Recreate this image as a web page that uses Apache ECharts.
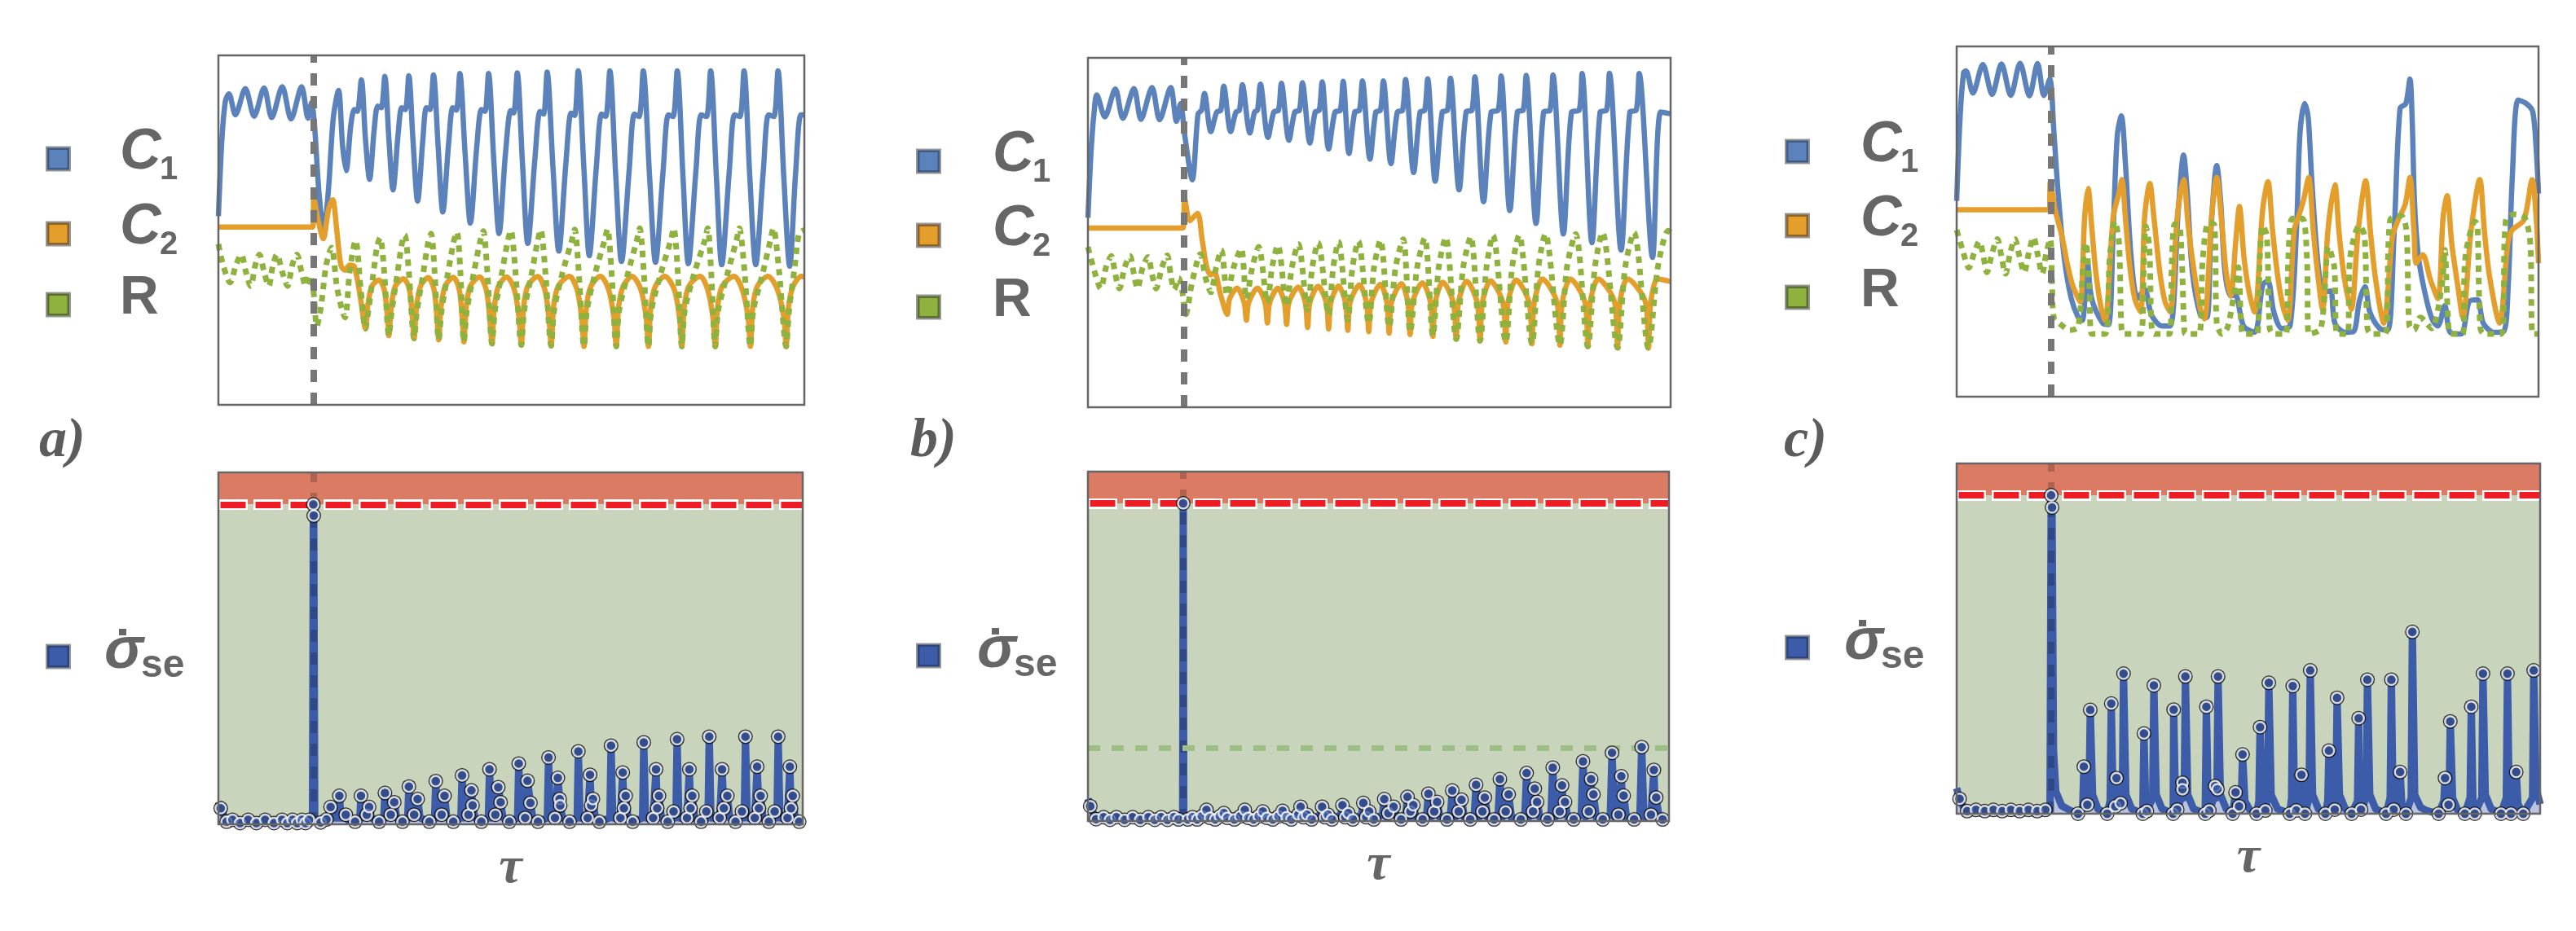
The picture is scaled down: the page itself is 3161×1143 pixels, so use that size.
<!DOCTYPE html>
<html><head><meta charset="utf-8">
<script src="https://cdn.jsdelivr.net/npm/echarts@6/dist/echarts.min.js"></script>
<style>html,body{margin:0;padding:0;background:#fff}#c{width:3161px;height:1143px}</style>
</head><body><div id="c"></div>
<script>
// ---------- data (tau on 0..100) ----------
const TAU_MIN = 0, TAU_MAX = 100;
const TOP_Y = [0, 1];
const BOTTOM_Y = [0, 1.1];
const THRESHOLD = 1.0;
const SWITCH_TAU = [16.3, 16.4, 16.2];
const GREEN_LEVEL_B = 0.233;
const PANEL_LETTERS = ['a)', 'b)', 'c)'];
const AXIS_NAME = 'τ';

const C1_A = [[0,0.54],[0.6,0.76],[1.2,0.87],[1.8,0.89],[2.9,0.83],[4.6,0.905],[6.1,0.826],[7.8,0.907],[9.1,0.822],[10.9,0.91],[12.4,0.818],[14.2,0.91],[15.3,0.82],[15.9,0.865],[16.4,0.80],[17.2,0.60],[18.0,0.50],
[18.8,0.62],[19.6,0.82],[20.5,0.90],[21.2,0.74],[21.8,0.67],[22.6,0.80],[23.2,0.845],[23.7,0.84],[24.4,0.93],[25.1,0.76],[25.8,0.645],
[26.6,0.79],[27.2,0.855],[27.8,0.85],[28.4,0.94],[29.1,0.76],[29.8,0.615],
[30.7,0.78],[31.3,0.85],[31.9,0.845],[32.5,0.942],[33.2,0.76],[34.0,0.583],
[34.9,0.76],[35.5,0.85],[36.1,0.845],[36.7,0.944],[37.5,0.74],[38.3,0.552],
[39.3,0.75],[40.0,0.85],[40.6,0.843],[41.2,0.948],[42.1,0.72],[43.0,0.52],
[44.1,0.74],[44.9,0.845],[45.5,0.84],[46.1,0.948],[47.0,0.70],[47.9,0.49],
[49.0,0.72],[49.9,0.842],[50.4,0.835],[51.0,0.95],[51.9,0.69],[52.8,0.462],
[54.0,0.70],[54.9,0.84],[55.5,0.832],[56.1,0.952],[57.1,0.68],[58.1,0.44],
[59.3,0.69],[60.2,0.835],[60.8,0.828],[61.4,0.956],[62.4,0.67],[63.3,0.427],
[64.5,0.68],[65.4,0.832],[66.1,0.825],[66.8,0.956],[67.8,0.66],[68.8,0.41],
[70.1,0.67],[71.0,0.832],[71.8,0.825],[72.5,0.956],[73.6,0.65],[74.6,0.408],
[75.9,0.67],[76.8,0.83],[77.6,0.825],[78.3,0.956],[79.3,0.65],[80.2,0.404],
[81.5,0.67],[82.4,0.83],[83.3,0.825],[84.0,0.956],[85.0,0.65],[85.9,0.401],
[87.2,0.67],[88.1,0.83],[89.0,0.825],[89.7,0.956],[90.7,0.65],[91.7,0.401],
[93.0,0.67],[93.9,0.83],[94.8,0.825],[95.5,0.956],[96.5,0.65],[97.5,0.397],
[98.5,0.66],[99.4,0.83],[100,0.83]];

const C2_A = [[0,0.509],[16.1,0.509],[16.3,0.59],[17.0,0.53],[17.9,0.475],[18.8,0.56],[19.5,0.587],[20.2,0.50],[20.9,0.40],[21.6,0.385],[22.4,0.40],[23.2,0.396],[24.2,0.31],[25.1,0.218],
[25.5,0.285],[26.2,0.34],[27.4,0.357],[28.3,0.33],[28.8,0.26],[29.1,0.198],
[29.5,0.28],[30.2,0.34],[31.6,0.361],[32.6,0.33],[33.1,0.25],[33.4,0.19],
[33.8,0.28],[34.5,0.34],[35.8,0.364],[36.8,0.33],[37.3,0.25],[37.6,0.186],
[38.0,0.28],[38.7,0.34],[40.1,0.365],[41.1,0.33],[41.6,0.25],[41.9,0.18],
[42.3,0.28],[43.0,0.34],[44.6,0.366],[45.7,0.33],[46.3,0.25],[46.7,0.175],
[47.1,0.28],[47.8,0.34],[49.2,0.366],[50.5,0.33],[51.3,0.25],[51.7,0.171],
[52.1,0.28],[52.8,0.34],[54.5,0.367],[55.7,0.33],[56.4,0.25],[56.8,0.169],
[57.2,0.28],[58.0,0.34],[59.9,0.368],[61.2,0.33],[62.0,0.25],[62.4,0.167],
[62.8,0.28],[63.6,0.34],[65.2,0.368],[66.6,0.33],[67.5,0.25],[67.9,0.167],
[68.3,0.28],[69.1,0.34],[70.6,0.368],[72.1,0.33],[73.0,0.25],[73.4,0.167],
[73.8,0.28],[74.6,0.34],[76.2,0.368],[77.8,0.33],[78.7,0.25],[79.1,0.167],
[79.5,0.28],[80.3,0.34],[82.2,0.368],[83.5,0.33],[84.4,0.25],[84.8,0.167],
[85.2,0.28],[86.0,0.34],[88.0,0.368],[89.4,0.33],[90.4,0.25],[90.8,0.167],
[91.2,0.28],[92.0,0.34],[93.8,0.368],[95.4,0.33],[96.5,0.25],[96.9,0.167],
[97.3,0.28],[98.1,0.34],[99.5,0.368],[100,0.366]];

const R_A = [[0,0.46],[0.8,0.40],[2.0,0.35],[3.0,0.40],[3.9,0.43],[4.7,0.38],[5.5,0.34],[6.3,0.40],[7.0,0.43],[7.8,0.38],[8.6,0.34],[9.3,0.40],[10.0,0.43],[10.9,0.38],[11.8,0.34],[12.6,0.40],[13.4,0.43],[14.2,0.38],[14.9,0.34],[15.6,0.37],[16.2,0.33],[16.8,0.225],[17.5,0.28],[18.4,0.40],[19.3,0.45],[20.3,0.33],[21.6,0.25],[22.4,0.38],[23.4,0.47],[24.3,0.33],[25.1,0.218],
[25.6,0.27],[26.4,0.37],[27.1,0.455],[27.6,0.478],[28.3,0.38],[29.1,0.198],
[29.6,0.27],[30.5,0.37],[31.3,0.46],[31.8,0.486],[32.5,0.38],[33.4,0.19],
[33.9,0.27],[34.9,0.37],[35.8,0.465],[36.3,0.49],[36.9,0.38],[37.6,0.186],
[38.1,0.27],[39.1,0.37],[40.2,0.47],[40.7,0.494],[41.3,0.38],[41.9,0.18],
[42.4,0.27],[43.5,0.37],[44.7,0.47],[45.2,0.497],[45.9,0.38],[46.7,0.175],
[47.2,0.27],[48.3,0.37],[49.4,0.47],[49.9,0.499],[50.7,0.38],[51.7,0.171],
[52.2,0.27],[53.4,0.37],[54.5,0.47],[55.0,0.501],[55.8,0.38],[56.8,0.169],
[57.3,0.27],[58.6,0.37],[60.3,0.47],[60.8,0.502],[61.5,0.38],[62.4,0.167],
[62.9,0.27],[64.2,0.37],[65.9,0.47],[66.4,0.503],[67.1,0.38],[67.9,0.167],
[68.4,0.27],[69.8,0.37],[71.4,0.47],[71.9,0.505],[72.6,0.38],[73.4,0.167],
[73.9,0.27],[75.4,0.37],[77.2,0.47],[77.7,0.505],[78.4,0.38],[79.1,0.167],
[79.6,0.27],[81.1,0.37],[83.0,0.47],[83.5,0.505],[84.1,0.38],[84.8,0.167],
[85.3,0.27],[86.8,0.37],[88.4,0.47],[88.9,0.505],[89.8,0.38],[90.8,0.167],
[91.3,0.27],[92.8,0.37],[94.2,0.47],[94.7,0.505],[95.7,0.38],[96.9,0.167],
[97.4,0.27],[98.4,0.40],[99.1,0.49],[100,0.50]];

const C1_B = [[0,0.542],[0.6,0.75],[1.2,0.87],[1.5,0.894],[2.9,0.831],[4.7,0.911],[6.0,0.827],[7.9,0.912],[9.1,0.824],[11.0,0.915],[12.3,0.823],[14.2,0.915],[15.2,0.818],[15.9,0.869],[16.6,0.78],[17.9,0.651],
[18.9,0.84],[19.5,0.85],[20.0,0.898],[21.1,0.789],
[22.1,0.845],[22.8,0.85],[23.3,0.919],[24.5,0.789],
[25.4,0.845],[26.0,0.85],[26.5,0.923],[27.8,0.785],
[28.6,0.845],[29.1,0.85],[29.6,0.925],[30.9,0.772],
[31.9,0.845],[32.7,0.85],[33.2,0.927],[34.5,0.764],
[35.5,0.845],[36.3,0.85],[36.8,0.929],[38.1,0.756],
[39.0,0.845],[39.7,0.85],[40.2,0.931],[41.3,0.739],
[42.4,0.845],[43.3,0.85],[43.8,0.933],[44.8,0.726],
[45.8,0.845],[46.6,0.85],[47.1,0.934],[48.4,0.71],
[49.4,0.845],[50.2,0.85],[50.7,0.934],[52.0,0.697],
[53.1,0.845],[54.0,0.85],[54.5,0.938],[55.9,0.672],
[57.0,0.845],[57.8,0.85],[58.3,0.94],[59.6,0.647],
[60.8,0.845],[61.7,0.85],[62.2,0.942],[63.7,0.622],
[64.9,0.845],[65.9,0.85],[66.4,0.946],[67.9,0.588],
[69.2,0.845],[70.4,0.85],[70.9,0.948],[72.4,0.563],
[73.7,0.845],[74.7,0.85],[75.2,0.95],[76.9,0.526],
[78.2,0.845],[79.3,0.85],[79.8,0.951],[81.6,0.496],
[83.0,0.845],[84.3,0.85],[84.8,0.955],[86.5,0.471],
[87.9,0.845],[89.0,0.85],[89.5,0.956],[91.5,0.45],
[93.0,0.845],[94.1,0.85],[94.6,0.955],[96.9,0.429],
[98.3,0.845],[100,0.84]];

const C2_B = [[0,0.513],[16.3,0.513],[16.6,0.597],[17.5,0.534],[18.8,0.555],[19.6,0.48],[20.4,0.40],[21.1,0.379],[21.7,0.385],[22.8,0.32],[23.9,0.266],
[24.3,0.31],[25.6,0.341],[26.8,0.30],[27.2,0.249],
[27.6,0.30],[29.1,0.341],[30.4,0.30],[30.8,0.241],
[31.2,0.30],[32.6,0.341],[33.7,0.30],[34.1,0.237],
[34.5,0.30],[36.1,0.344],[37.3,0.30],[37.7,0.228],
[38.1,0.30],[39.5,0.346],[40.9,0.30],[41.3,0.224],
[41.7,0.30],[43.0,0.347],[44.2,0.30],[44.6,0.22],
[45.0,0.30],[46.6,0.35],[47.8,0.30],[48.2,0.216],
[48.6,0.30],[50.2,0.352],[51.3,0.30],[51.7,0.212],
[52.1,0.30],[53.8,0.354],[54.9,0.30],[55.3,0.208],
[55.7,0.30],[57.4,0.356],[58.8,0.30],[59.2,0.203],
[59.6,0.30],[60.9,0.358],[62.7,0.30],[63.2,0.195],
[63.6,0.30],[65.0,0.361],[66.8,0.30],[67.3,0.191],
[67.7,0.30],[69.1,0.362],[71.2,0.30],[71.7,0.187],
[72.1,0.30],[73.5,0.364],[75.7,0.30],[76.2,0.182],
[76.6,0.30],[78.0,0.367],[80.5,0.30],[81.0,0.178],
[81.4,0.30],[82.8,0.367],[85.3,0.30],[85.8,0.174],
[86.2,0.30],[87.6,0.367],[90.4,0.30],[90.9,0.17],
[91.3,0.30],[92.6,0.367],[95.7,0.30],[96.2,0.17],
[96.6,0.30],[97.8,0.367],[100,0.36]];

const R_B = [[0,0.459],[1.1,0.39],[2.2,0.34],[3.1,0.40],[4.0,0.433],[4.7,0.38],[5.4,0.34],[6.3,0.40],[7.2,0.433],[7.9,0.38],[8.5,0.34],[9.4,0.40],[10.3,0.43],[11.0,0.38],[11.7,0.34],[12.7,0.40],[13.6,0.435],[14.2,0.38],[14.8,0.337],[15.6,0.37],[16.2,0.33],[16.8,0.266],[17.9,0.36],[19.3,0.438],[20.2,0.37],[21.1,0.329],[22.0,0.40],[22.9,0.45],[23.9,0.32],
[25.0,0.40],[26.3,0.454],[27.2,0.31],
[28.2,0.40],[29.3,0.459],[30.8,0.30],
[31.6,0.40],[32.6,0.464],[34.1,0.29],
[35.0,0.40],[36.1,0.467],[37.7,0.28],
[38.5,0.40],[39.5,0.471],[41.3,0.265],
[42.1,0.40],[43.0,0.473],[44.6,0.25],
[45.4,0.40],[46.4,0.475],[48.2,0.24],
[49.1,0.40],[50.2,0.478],[51.7,0.23],
[52.8,0.40],[54.1,0.481],[55.3,0.215],
[56.5,0.40],[57.8,0.484],[59.2,0.205],
[60.2,0.40],[61.4,0.486],[63.2,0.195],
[64.4,0.40],[65.7,0.488],[67.3,0.19],
[68.4,0.40],[69.5,0.492],[71.7,0.187],
[72.8,0.40],[74.0,0.492],[76.2,0.182],
[77.3,0.40],[78.5,0.496],[81.0,0.178],
[82.2,0.40],[83.7,0.496],[85.8,0.174],
[87.0,0.40],[88.3,0.5],[90.9,0.17],
[92.2,0.40],[93.7,0.5],[96.2,0.17],
[97.8,0.40],[99.6,0.505],[100,0.50]];

const C1_C = [[0,0.559],[0.6,0.80],[1.2,0.925],[1.6,0.93],[2.8,0.867],[4.5,0.948],[6.1,0.863],[7.7,0.95],[9.3,0.86],[10.9,0.952],[12.5,0.859],[13.9,0.951],[15.0,0.86],[16.0,0.907],[16.7,0.76],[17.4,0.59],[18.5,0.395],[19.7,0.28],[20.9,0.226],[21.6,0.218],[22.5,0.38],[23.2,0.28],[25.1,0.21],[26.1,0.206],[26.9,0.474],[27.6,0.745],[28.3,0.802],[29.0,0.667],[30.0,0.395],[31.1,0.28],[32.3,0.307],[33.5,0.233],[35.3,0.202],[36.7,0.202],[38.1,0.535],[39.0,0.69],[39.6,0.59],[40.5,0.358],[41.9,0.233],[43.0,0.226],[43.7,0.474],[44.7,0.66],[45.4,0.551],[46.1,0.358],[47.1,0.288],[47.9,0.29],[49.3,0.202],[51.2,0.184],[52.6,0.319],[53.5,0.33],[54.5,0.242],[55.9,0.195],[57.3,0.202],[58.4,0.474],[59.0,0.75],[59.8,0.837],[60.4,0.80],[61.0,0.628],[61.8,0.435],[62.6,0.319],[63.6,0.30],[64.3,0.302],[65.0,0.21],[66.7,0.184],[68.2,0.186],[69.2,0.272],[70.2,0.314],[71.0,0.242],[72.7,0.195],[74.1,0.19],[75.2,0.474],[76.2,0.823],[77.2,0.837],[77.9,0.907],[78.3,0.784],[78.7,0.551],[79.4,0.395],[80.7,0.28],[81.8,0.218],[82.7,0.202],[83.9,0.26],[84.8,0.184],[86.7,0.179],[88.1,0.272],[89.5,0.277],[90.5,0.21],[92.3,0.184],[94.0,0.186],[94.8,0.319],[95.5,0.628],[96.5,0.847],[97.9,0.837],[99.0,0.814],[99.6,0.707],[100,0.58]];

const C2_C = [[0,0.534],[15.9,0.534],[16.1,0.614],[16.9,0.535],[18.1,0.458],[19.0,0.381],[19.9,0.319],[20.9,0.28],[21.3,0.27],[22.0,0.512],[22.6,0.594],[23.2,0.488],[23.9,0.358],[24.8,0.256],[25.5,0.218],[26.9,0.512],[27.9,0.582],[28.4,0.62],[29.0,0.512],[29.7,0.381],[30.6,0.28],[31.6,0.242],[32.3,0.512],[33.2,0.609],[33.9,0.512],[34.9,0.358],[35.8,0.272],[36.7,0.242],[37.9,0.512],[39.0,0.62],[39.8,0.488],[40.8,0.358],[41.9,0.249],[42.6,0.222],[43.8,0.512],[44.7,0.626],[45.6,0.488],[46.3,0.358],[47.1,0.288],[48.0,0.45],[48.6,0.543],[49.4,0.395],[50.3,0.295],[51.2,0.242],[52.6,0.535],[53.5,0.614],[54.3,0.473],[55.2,0.342],[56.1,0.256],[56.9,0.218],[58.0,0.474],[58.7,0.512],[59.6,0.56],[60.5,0.626],[61.3,0.473],[62.0,0.358],[62.9,0.249],[63.8,0.473],[65.0,0.605],[65.7,0.473],[66.6,0.342],[67.8,0.249],[69.0,0.473],[70.3,0.616],[71.1,0.473],[72.0,0.335],[73.4,0.21],[74.9,0.458],[75.9,0.505],[77.1,0.55],[77.9,0.626],[78.6,0.473],[79.0,0.381],[80.1,0.405],[81.4,0.335],[82.7,0.28],[83.6,0.512],[84.3,0.574],[85.1,0.435],[86.1,0.319],[87.0,0.226],[88.4,0.473],[89.9,0.62],[90.7,0.473],[91.6,0.342],[93.3,0.21],[94.7,0.435],[95.4,0.474],[97.5,0.505],[98.9,0.62],[99.6,0.512],[100,0.381]];

const R_C = [[0,0.476],[1.0,0.42],[2.1,0.368],[3.0,0.41],[3.9,0.443],[4.6,0.40],[5.2,0.355],[6.1,0.41],[7.0,0.45],[7.7,0.40],[8.4,0.351],[9.2,0.41],[10.0,0.45],[10.8,0.40],[11.6,0.355],[12.4,0.41],[13.2,0.455],[14.0,0.40],[14.7,0.351],[15.4,0.41],[16.1,0.45],[16.4,0.319],[16.7,0.226],[17.6,0.21],[19.5,0.19],[20.9,0.20],[21.8,0.395],[22.2,0.44],[22.8,0.319],[23.2,0.179],[25.5,0.179],[26.3,0.395],[27.2,0.50],[27.9,0.44],[28.3,0.202],[28.7,0.179],[31.6,0.179],[32.2,0.395],[32.5,0.486],[33.1,0.43],[33.5,0.202],[34.0,0.179],[36.6,0.179],[37.0,0.395],[37.5,0.493],[38.4,0.48],[39.1,0.195],[39.3,0.179],[41.6,0.179],[42.3,0.395],[43.3,0.498],[44.3,0.49],[44.7,0.21],[45.6,0.179],[46.6,0.20],[47.9,0.319],[48.4,0.37],[48.9,0.21],[49.3,0.179],[51.6,0.179],[52.1,0.395],[52.6,0.488],[53.3,0.46],[53.8,0.195],[54.5,0.179],[56.6,0.179],[57.0,0.395],[57.7,0.509],[59.4,0.509],[60.2,0.395],[60.5,0.179],[62.6,0.195],[63.9,0.428],[64.9,0.37],[65.4,0.179],[67.2,0.179],[67.6,0.395],[69.2,0.488],[70.1,0.46],[70.6,0.195],[71.3,0.179],[73.6,0.179],[74.5,0.505],[76.4,0.516],[77.3,0.474],[77.8,0.202],[78.6,0.19],[79.7,0.226],[81.6,0.195],[83.4,0.319],[83.9,0.419],[84.4,0.242],[84.9,0.179],[87.0,0.179],[87.4,0.395],[89.1,0.50],[89.5,0.49],[90.0,0.195],[90.7,0.179],[93.6,0.179],[94.4,0.505],[96.1,0.521],[97.7,0.509],[98.6,0.435],[99.0,0.179],[100,0.179]];

// entropy-production traces (line path) and their marked extrema (dots)
const SIG_A = [[0,0.07],[0.4,0.05],[1.4,0.008],[2.4,0.014],[3.7,0.004],[5.1,0.014],[6.5,0.004],[8.0,0.014],[9.5,0.004],[10.9,0.014],[11.8,0.004],[12.7,0.014],[13.5,0.004],[14.3,0.014],[14.9,0.004],[15.5,0.014],[16.1,0.01],[16.25,1.0],[16.32,0.965],[16.5,0.01],[17.5,0.006],[18.5,0.015],[19.0,0.03],[19.2,0.054],[19.5,0.02],[20.5,0.02],[20.7,0.089],[21.0,0.02],[21.6,0.02],[21.8,0.03],[22.3,0.01],[23.4,0.008],
[24.2,0.02],[24.4,0.089],[24.7,0.02],[25.4,0.03],[25.8,0.054],[26.2,0.02],[27.5,0.008],
[28.3,0.02],[28.5,0.098],[28.8,0.02],[29.5,0.03],[30.1,0.069],[30.5,0.02],[31.5,0.008],
[32.4,0.02],[32.6,0.118],[32.9,0.02],[33.5,0.03],[34.1,0.079],[34.5,0.02],[36.1,0.008],
[37.0,0.02],[37.2,0.135],[37.5,0.02],[38.2,0.03],[38.7,0.089],[39.1,0.02],[40.2,0.008],
[41.5,0.02],[41.7,0.153],[42.0,0.02],[42.8,0.03],[43.3,0.106],[43.5,0.059],[43.9,0.02],[45.0,0.008],
[46.2,0.02],[46.4,0.172],[46.7,0.02],[47.4,0.03],[47.9,0.116],[48.3,0.069],[48.7,0.02],[49.8,0.008],
[51.2,0.02],[51.4,0.19],[51.7,0.02],[52.5,0.02],[52.9,0.136],[53.4,0.067],[53.8,0.02],[54.7,0.008],
[56.3,0.02],[56.5,0.209],[56.8,0.02],[57.6,0.02],[58.1,0.145],[58.4,0.079],[58.5,0.059],[58.9,0.02],[60.1,0.008],
[61.4,0.02],[61.6,0.228],[61.9,0.02],[63.2,0.02],[63.6,0.155],[63.8,0.059],[64.1,0.079],[64.5,0.02],[65.2,0.008],
[67.0,0.02],[67.2,0.246],[67.5,0.02],[68.8,0.02],[69.2,0.162],[69.4,0.05],[69.7,0.089],[70.1,0.02],[70.9,0.008],
[72.6,0.02],[72.8,0.256],[73.1,0.02],[74.4,0.02],[74.9,0.172],[75.1,0.05],[75.4,0.089],[75.8,0.02],[76.9,0.008],
[77.9,0.04],[78.3,0.02],[78.5,0.266],[78.8,0.02],[80.2,0.02],[80.6,0.172],[80.8,0.05],[81.1,0.089],[81.5,0.02],[82.6,0.008],
[83.5,0.04],[83.8,0.02],[84.0,0.274],[84.3,0.02],[85.8,0.02],[86.2,0.172],[86.5,0.05],[87.1,0.089],[87.5,0.02],[88.5,0.008],
[89.6,0.04],[90.0,0.02],[90.2,0.274],[90.5,0.02],[91.8,0.02],[92.2,0.18],[92.5,0.05],[92.8,0.089],[93.2,0.02],[94.2,0.008],
[95.2,0.04],[95.6,0.02],[95.8,0.274],[96.1,0.02],[97.4,0.02],[97.8,0.18],[98.0,0.05],[98.3,0.089],[98.7,0.02],[99.4,0.008],[100,0.01]];

const SIG_A_DOTS = [[0.4,0.05],[1.4,0.008],[2.4,0.014],[3.7,0.004],[5.1,0.014],[6.5,0.004],[8.0,0.014],[9.5,0.004],[10.9,0.014],[11.8,0.004],[12.7,0.014],[13.5,0.004],[14.3,0.014],[14.9,0.004],[15.5,0.014],[16.25,1.0],[16.32,0.965],[17.5,0.006],[18.5,0.015],[19.2,0.054],[20.7,0.089],[21.8,0.03],[23.4,0.008],[24.4,0.089],[25.4,0.03],[25.8,0.054],[27.5,0.008],[28.5,0.098],[29.5,0.03],[30.1,0.069],[31.5,0.008],[32.6,0.118],[33.5,0.03],[34.1,0.079],[36.1,0.008],[37.2,0.135],[38.2,0.03],[38.7,0.089],[40.2,0.008],[41.7,0.153],[42.8,0.03],[43.3,0.106],[43.5,0.059],[45.0,0.008],[46.4,0.172],[47.4,0.03],[47.9,0.116],[48.3,0.069],[49.8,0.008],[51.4,0.19],[52.5,0.02],[52.9,0.136],[53.4,0.067],[54.7,0.008],[56.5,0.209],[57.6,0.02],[58.1,0.145],[58.4,0.079],[58.5,0.059],[60.1,0.008],[61.6,0.228],[63.2,0.02],[63.6,0.155],[63.8,0.059],[64.1,0.079],[65.2,0.008],[67.2,0.246],[68.8,0.02],[69.2,0.162],[69.4,0.05],[69.7,0.089],[70.9,0.008],[72.8,0.256],[74.4,0.02],[74.9,0.172],[75.1,0.05],[75.4,0.089],[76.9,0.008],[77.9,0.04],[78.5,0.266],[80.2,0.02],[80.6,0.172],[80.8,0.05],[81.1,0.089],[82.6,0.008],[83.5,0.04],[84.0,0.274],[85.8,0.02],[86.2,0.172],[86.5,0.05],[87.1,0.089],[88.5,0.008],[89.6,0.04],[90.2,0.274],[91.8,0.02],[92.2,0.18],[92.5,0.05],[92.8,0.089],[94.2,0.008],[95.2,0.04],[95.8,0.274],[97.4,0.02],[97.8,0.18],[98.0,0.05],[98.3,0.089],[99.4,0.008]];

const SIG_B = [[0,0.07],[0.4,0.047],[1.4,0.006],[2.7,0.012],[3.8,0.004],[4.9,0.012],[6.3,0.004],[7.7,0.012],[9.0,0.004],[10.4,0.012],[11.5,0.004],[12.6,0.012],[13.7,0.004],[14.8,0.012],[15.6,0.005],[16.3,0.01],[16.4,1.0],[16.5,0.01],[17.2,0.005],[18.0,0.012],[18.8,0.005],[19.6,0.015],[20.4,0.035],[21.0,0.01],[21.9,0.005],[22.7,0.015],[23.4,0.025],[24.0,0.01],[25.2,0.005],[26.2,0.015],[27.0,0.035],[27.6,0.01],[28.5,0.005],[29.4,0.015],[30.1,0.03],[30.8,0.01],[31.8,0.005],[32.8,0.015],[33.5,0.032],[34.2,0.012],[35.0,0.005],[36.2,0.02],[36.6,0.045],[37.1,0.012],[37.7,0.02],[38.5,0.005],[40.0,0.02],[40.3,0.045],[40.8,0.012],[41.3,0.02],[42.0,0.005],[43.5,0.02],[43.8,0.05],[44.3,0.012],[44.8,0.025],[45.6,0.005],[47.1,0.02],[47.4,0.057],[47.9,0.012],[48.4,0.03],[49.2,0.005],[50.7,0.02],[51.0,0.069],[51.4,0.012],[51.7,0.025],[52.6,0.045],[53.2,0.01],[53.9,0.005],[54.7,0.02],[55.0,0.076],[55.4,0.012],[55.5,0.03],[56.0,0.05],[56.5,0.01],[57.6,0.005],[58.3,0.02],[58.6,0.086],[59.0,0.012],[59.6,0.03],[60.1,0.06],[60.6,0.01],[61.8,0.005],[62.4,0.02],[62.7,0.096],[63.2,0.012],[63.8,0.03],[64.3,0.067],[64.8,0.01],[65.8,0.005],[66.5,0.02],[66.8,0.114],[67.3,0.012],[67.9,0.03],[68.3,0.074],[68.8,0.01],[69.9,0.005],[70.6,0.02],[70.9,0.132],[71.3,0.012],[71.9,0.03],[72.4,0.084],[72.9,0.01],[74.5,0.005],[75.2,0.02],[75.5,0.151],[75.9,0.012],[76.6,0.03],[76.9,0.102],[77.1,0.04],[77.3,0.06],[77.8,0.01],[79.1,0.005],[79.7,0.02],[80.0,0.168],[80.4,0.012],[81.2,0.03],[81.6,0.112],[81.8,0.04],[82.1,0.06],[82.6,0.01],[83.6,0.005],[84.9,0.02],[85.2,0.188],[85.6,0.012],[86.2,0.03],[86.6,0.132],[86.8,0.05],[87.0,0.084],[87.5,0.01],[88.6,0.005],[89.9,0.02],[90.2,0.215],[90.6,0.012],[91.3,0.02],[91.8,0.141],[92.0,0.05],[92.2,0.08],[92.7,0.01],[94.0,0.005],[95.0,0.02],[95.3,0.233],[95.7,0.012],[96.9,0.02],[97.4,0.161],[97.6,0.05],[97.8,0.074],[98.3,0.01],[98.9,0.005],[100,0.01]];

const SIG_B_DOTS = [[0.4,0.047],[1.4,0.006],[2.7,0.012],[3.8,0.004],[4.9,0.012],[6.3,0.004],[7.7,0.012],[9.0,0.004],[10.4,0.012],[11.5,0.004],[12.6,0.012],[13.7,0.004],[14.8,0.012],[15.6,0.005],[16.4,1.0],[17.2,0.005],[18.0,0.012],[18.8,0.005],[19.6,0.015],[20.4,0.035],[21.0,0.01],[21.9,0.005],[22.7,0.015],[23.4,0.025],[24.0,0.01],[25.2,0.005],[26.2,0.015],[27.0,0.035],[27.6,0.01],[28.5,0.005],[29.4,0.015],[30.1,0.03],[30.8,0.01],[31.8,0.005],[32.8,0.015],[33.5,0.032],[34.2,0.012],[35.0,0.005],[36.2,0.02],[36.6,0.045],[37.1,0.012],[37.7,0.02],[38.5,0.005],[40.3,0.045],[40.8,0.012],[41.3,0.02],[42.0,0.005],[43.8,0.05],[44.3,0.012],[44.8,0.025],[45.6,0.005],[47.4,0.057],[47.9,0.012],[48.4,0.03],[49.2,0.005],[51.0,0.069],[51.7,0.025],[52.6,0.045],[53.9,0.005],[55.0,0.076],[55.5,0.03],[56.0,0.05],[57.6,0.005],[58.6,0.086],[59.6,0.03],[60.1,0.06],[61.8,0.005],[62.7,0.096],[63.8,0.03],[64.3,0.067],[65.8,0.005],[66.8,0.114],[67.9,0.03],[68.3,0.074],[69.9,0.005],[70.9,0.132],[71.9,0.03],[72.4,0.084],[74.5,0.005],[75.5,0.151],[76.6,0.03],[76.9,0.102],[77.3,0.06],[79.1,0.005],[80.0,0.168],[81.2,0.03],[81.6,0.112],[82.1,0.06],[83.6,0.005],[85.2,0.188],[86.2,0.03],[86.6,0.132],[87.0,0.084],[88.6,0.005],[90.2,0.215],[91.3,0.02],[91.8,0.141],[92.2,0.08],[94.0,0.005],[95.3,0.233],[96.9,0.02],[97.4,0.161],[97.8,0.074],[98.9,0.005]];

const SIG_C = [[0,0.08],[0.5,0.047],[1.5,0.008],[3.0,0.012],[4.5,0.004],[6.0,0.012],[7.5,0.004],[9.0,0.012],[10.5,0.004],[12.0,0.012],[13.5,0.004],[15.0,0.012],[16.0,0.01],[16.2,1.0],[16.35,0.962],[16.6,0.2],[17.0,0.07],[18.0,0.025],[19.5,0.01],[20.8,0.0],[21.6,0.02],[21.8,0.148],[22.1,0.03],[22.4,0.028],[22.7,0.05],[22.9,0.326],[23.3,0.06],[24.2,0.015],[25.8,0.0],[26.3,0.04],[26.5,0.346],[26.8,0.05],[27.2,0.023],[27.4,0.112],[27.7,0.03],[28.1,0.033],[28.4,0.06],[28.6,0.44],[29.0,0.06],[30.0,0.015],[31.9,0.0],[32.1,0.252],[32.4,0.03],[32.6,0.008],[33.6,0.05],[33.8,0.403],[34.2,0.06],[35.2,0.015],[37.1,0.0],[37.2,0.327],[37.5,0.03],[37.8,0.013],[38.5,0.05],[38.7,0.097],[38.9,0.06],[39.0,0.05],[39.2,0.431],[39.6,0.06],[40.6,0.015],[42.6,0.0],[42.8,0.336],[43.1,0.03],[43.3,0.01],[44.1,0.05],[44.3,0.087],[44.5,0.06],[44.6,0.05],[44.8,0.431],[45.2,0.06],[46.2,0.015],[47.3,0.0],[47.6,0.04],[47.8,0.067],[48.1,0.03],[48.4,0.023],[48.8,0.05],[49.0,0.186],[49.4,0.04],[50.3,0.01],[51.4,0.0],[51.8,0.04],[52.0,0.272],[52.4,0.03],[52.9,0.01],[53.3,0.05],[53.5,0.411],[53.9,0.06],[55.0,0.015],[57.1,0.0],[57.4,0.05],[57.6,0.401],[57.9,0.03],[58.2,0.01],[58.9,0.04],[59.1,0.122],[59.4,0.02],[59.7,0.0],[60.4,0.05],[60.6,0.45],[61.0,0.06],[62.0,0.015],[63.2,0.0],[63.6,0.04],[63.8,0.198],[64.2,0.03],[64.8,0.013],[65.0,0.05],[65.2,0.364],[65.6,0.06],[66.6,0.015],[67.7,0.0],[68.7,0.04],[68.9,0.30],[69.1,0.02],[69.3,0.013],[70.2,0.05],[70.4,0.421],[70.8,0.06],[71.8,0.015],[73.6,0.0],[74.3,0.05],[74.5,0.421],[74.8,0.02],[74.9,0.013],[75.8,0.04],[76.0,0.131],[76.3,0.03],[77.0,0.0],[77.9,0.05],[78.1,0.571],[78.5,0.06],[79.5,0.02],[80.5,0.01],[82.6,0.0],[83.5,0.04],[83.7,0.112],[84.0,0.03],[84.3,0.028],[84.4,0.05],[84.6,0.29],[85.0,0.05],[85.9,0.01],[87.1,0.0],[88.0,0.05],[88.2,0.336],[88.5,0.02],[88.8,0.0],[90.0,0.05],[90.2,0.44],[90.6,0.06],[91.6,0.015],[93.3,0.0],[94.2,0.05],[94.4,0.44],[94.7,0.02],[95.0,0.0],[95.7,0.04],[95.9,0.131],[96.2,0.03],[97.1,0.0],[98.7,0.05],[98.9,0.45],[99.3,0.08],[100,0.03]];

const SIG_C_DOTS = [[0.5,0.047],[1.8,0.008],[3.3,0.012],[4.8,0.008],[6.3,0.012],[7.8,0.008],[9.3,0.012],[10.8,0.008],[12.3,0.012],[13.8,0.008],[15.2,0.012],[16.2,1.0],[16.35,0.962],[20.8,0.0],[21.8,0.148],[22.4,0.028],[22.9,0.326],[25.8,0.0],[26.5,0.346],[27.2,0.023],[27.4,0.112],[28.1,0.033],[28.6,0.44],[31.9,0.0],[32.1,0.252],[32.6,0.008],[33.8,0.403],[37.1,0.0],[37.2,0.327],[37.8,0.013],[38.7,0.097],[38.7,0.077],[39.2,0.431],[42.6,0.0],[42.8,0.336],[43.3,0.01],[44.3,0.087],[44.7,0.077],[44.8,0.431],[47.3,0.0],[47.8,0.067],[48.4,0.023],[49.0,0.186],[51.4,0.0],[52.0,0.272],[52.9,0.01],[53.5,0.411],[57.1,0.0],[57.6,0.401],[58.2,0.01],[59.1,0.122],[59.7,0.0],[60.6,0.45],[63.2,0.0],[63.8,0.198],[64.8,0.013],[65.2,0.364],[67.7,0.0],[68.9,0.30],[69.3,0.013],[70.4,0.421],[73.6,0.0],[74.5,0.421],[74.9,0.013],[76.0,0.131],[77.0,0.0],[78.1,0.571],[82.6,0.0],[83.7,0.112],[84.3,0.028],[84.6,0.29],[87.1,0.0],[88.2,0.336],[88.8,0.0],[90.2,0.44],[93.3,0.0],[94.4,0.44],[95.0,0.0],[95.9,0.131],[97.1,0.0],[98.9,0.45]];

// ---------- layout & style ----------
const TOP_GRIDS = [{left:268,top:68,width:719,height:429},{left:1335,top:71,width:715,height:429},{left:2401,top:57,width:714,height:430}];
const BOT_GRIDS = [{left:268,top:580,width:717,height:432},{left:1335,top:579,width:713,height:429},{left:2401,top:569,width:716,height:430}];
const LEG = [
  {sqX:56, rows:[195,287,374], textX:147, sigY:806, sigX:128, letterX:48},
  {sqX:1124, rows:[198,289,377], textX:1218, sigY:805, sigX:1199, letterX:1117},
  {sqX:2190, rows:[186,277,365], textX:2283, sigY:795, sigX:2263, letterX:2189}
];
const COL = {c1:'#5b82bb', c2:'#e39e2b', r:'#8fb23e', sig:'#3c5ba8', grey:'#777777', frame:'#666666', text:'#666666',
  red:'#db7b64', green:'#c8d4bc', thr:'#ee1d23', gline:'#9dbf85'};
const DARK = {c1:'#3f5a86', c2:'#8d6228', r:'#5a7030', sig:'#2c447c'};
const SANS = 'Liberation Sans', SERIF = 'Liberation Serif';

const tops = [[C1_A,C2_A,R_A],[C1_B,C2_B,R_B],[C1_C,C2_C,R_C]];
const bots = [[SIG_A,SIG_A_DOTS],[SIG_B,SIG_B_DOTS],[SIG_C,SIG_C_DOTS]];

const grid = [], xAxis = [], yAxis = [], series = [], graphic = [];
const hiddenAxis = {axisLine:{show:false}, axisTick:{show:false}, axisLabel:{show:false}, splitLine:{show:false}};

for (let p = 0; p < 3; p++) {
  // top grid
  const gi = grid.length;
  grid.push(Object.assign({containLabel:false}, TOP_GRIDS[p]));
  xAxis.push(Object.assign({type:'value', gridIndex:gi, min:TAU_MIN, max:TAU_MAX}, hiddenAxis));
  yAxis.push(Object.assign({type:'value', gridIndex:gi, min:TOP_Y[0], max:TOP_Y[1]}, hiddenAxis));
  const [c1, c2, r] = tops[p];
  const base = {type:'line', xAxisIndex:gi, yAxisIndex:gi, showSymbol:false, symbol:'none', smooth:0.3, silent:true, clip:true};
  series.push(Object.assign({}, base, {name:'C1', data:c1, z:2, lineStyle:{color:COL.c1, width:6.5}}));
  series.push(Object.assign({}, base, {name:'C2', data:c2, z:3, lineStyle:{color:COL.c2, width:6.5}}));
  series.push(Object.assign({}, base, {name:'R', data:r, z:4, lineStyle:{color:COL.r, width:7, type:[8,7]}}));
  series.push({type:'line', xAxisIndex:gi, yAxisIndex:gi, data:[], z:6, silent:true,
    markLine:{silent:true, symbol:['none','none'], label:{show:false}, animation:false,
      lineStyle:{color:COL.grey, width:8, type:[15,13]}, data:[{xAxis:SWITCH_TAU[p]}]}});

  // bottom grid
  const bi = grid.length;
  grid.push(Object.assign({containLabel:false}, BOT_GRIDS[p]));
  xAxis.push(Object.assign({type:'value', gridIndex:bi, min:TAU_MIN, max:TAU_MAX, name:AXIS_NAME, nameLocation:'middle', nameGap:22,
    nameTextStyle:{fontFamily:SERIF, fontStyle:'italic', fontWeight:'bold', fontSize:64, color:COL.text}}, hiddenAxis));
  yAxis.push(Object.assign({type:'value', gridIndex:bi, min:BOTTOM_Y[0], max:BOTTOM_Y[1]}, hiddenAxis));
  series.push({type:'line', xAxisIndex:bi, yAxisIndex:bi, data:[], z:1, silent:true,
    markArea:{silent:true, animation:false, data:[
      [{yAxis:THRESHOLD, itemStyle:{color:COL.red}}, {yAxis:BOTTOM_Y[1]}],
      [{yAxis:BOTTOM_Y[0], itemStyle:{color:COL.green}}, {yAxis:THRESHOLD}]
    ]}});
  series.push({type:'line', xAxisIndex:bi, yAxisIndex:bi, data:[], z:2, silent:true,
    markLine:{silent:true, symbol:['none','none'], label:{show:false}, animation:false,
      lineStyle:{color:'rgba(0,0,0,0.2)', width:8, type:[15,13]}, data:[{xAxis:SWITCH_TAU[p]}]}});
  if (p === 1) {
    series.push({type:'line', xAxisIndex:bi, yAxisIndex:bi, data:[], z:2, silent:true,
      markLine:{silent:true, symbol:['none','none'], label:{show:false}, animation:false,
        lineStyle:{color:COL.gline, width:7, type:[15,14]}, data:[{yAxis:GREEN_LEVEL_B}]}});
  }
  series.push({type:'line', xAxisIndex:bi, yAxisIndex:bi, data:[], z:3, silent:true,
    markLine:{silent:true, symbol:['none','none'], label:{show:false}, animation:false,
      lineStyle:{color:'#ffffff', width:13, type:[36,7], dashOffset:0}, data:[{yAxis:THRESHOLD}]}});
  series.push({type:'line', xAxisIndex:bi, yAxisIndex:bi, data:[], z:3, silent:true,
    markLine:{silent:true, symbol:['none','none'], label:{show:false}, animation:false,
      lineStyle:{color:COL.thr, width:8, type:[31,12], dashOffset:-2.5}, data:[{yAxis:THRESHOLD}]}});
  const [sig, dots] = bots[p];
  series.push({type:'line', name:'sigma', xAxisIndex:bi, yAxisIndex:bi, data:sig, z:4, showSymbol:false, symbol:'none', silent:true,
    lineStyle:{color:COL.sig, width:9, join:'round'}, areaStyle:{color:'#b9c2de', opacity:1}});
  series.push({type:'scatter', xAxisIndex:bi, yAxisIndex:bi, data:dots, z:5, symbol:'circle', symbolSize:18, silent:true,
    itemStyle:{color:'#000000'}});
  series.push({type:'scatter', xAxisIndex:bi, yAxisIndex:bi, data:dots, z:6, symbol:'circle', symbolSize:13, silent:true,
    itemStyle:{color:COL.sig, borderColor:'#ffffff', borderWidth:2.5}});

  // frames
  for (const g of [TOP_GRIDS[p], BOT_GRIDS[p]]) {
    graphic.push({type:'rect', z:100, silent:true, shape:{x:g.left, y:g.top, width:g.width, height:g.height},
      style:{fill:null, stroke:COL.frame, lineWidth:2.5}});
  }
  // legend squares + labels
  const L = LEG[p];
  const keys = ['c1','c2','r'];
  const square = (cx, cy, key) => {
    graphic.push({type:'rect', z:100, silent:true, shape:{x:cx, y:cy-15.5, width:31, height:31}, style:{fill:'#979797'}});
    graphic.push({type:'rect', z:101, silent:true, shape:{x:cx+2, y:cy-13.5, width:27, height:27}, style:{fill:DARK[key]}});
    graphic.push({type:'rect', z:102, silent:true, shape:{x:cx+4.5, y:cy-11, width:22, height:22}, style:{fill:COL[key]}});
  };
  keys.forEach((k, i) => square(L.sqX, L.rows[i], k));
  square(L.sqX, L.sigY, 'sig');
  const txt = (x, y, text, size, italic, family, weight) => graphic.push({type:'text', z:103, silent:true, x:x, y:y,
    style:{text:text, fontSize:size, fontFamily:family||SANS, fontStyle:italic?'italic':'normal', fontWeight:weight||'bold',
      fill:COL.text, align:'left', verticalAlign:'middle'}});
  txt(L.textX, L.rows[0]-7, 'C', 70, true);
  txt(L.textX+49, L.rows[0]+14, '1', 40, false);
  txt(L.textX, L.rows[1]-7, 'C', 70, true);
  txt(L.textX+49, L.rows[1]+14, '2', 40, false);
  txt(L.textX, L.rows[2]-7, 'R', 66, false);
  txt(L.sigX, L.sigY-6, 'σ', 72, true);
  // time-derivative dot above sigma
  graphic.push({type:'rect', z:103, silent:true, shape:{x:L.sigX+18, y:L.sigY-34, width:9, height:8}, style:{fill:COL.text}});
  txt(L.sigX+45, L.sigY+12, 'se', 48, false);
  // panel letter
  graphic.push({type:'text', z:103, silent:true, x:L.letterX, y:542,
    style:{text:PANEL_LETTERS[p], fontSize:68, fontFamily:SERIF, fontStyle:'italic', fontWeight:'bold', fill:'#5c5c5c', align:'left', verticalAlign:'middle'}});
}

const chart = echarts.init(document.getElementById('c'), null, {renderer:'canvas'});
chart.setOption({animation:false, backgroundColor:'#ffffff', grid, xAxis, yAxis, series, graphic});
</script>
</body></html>
